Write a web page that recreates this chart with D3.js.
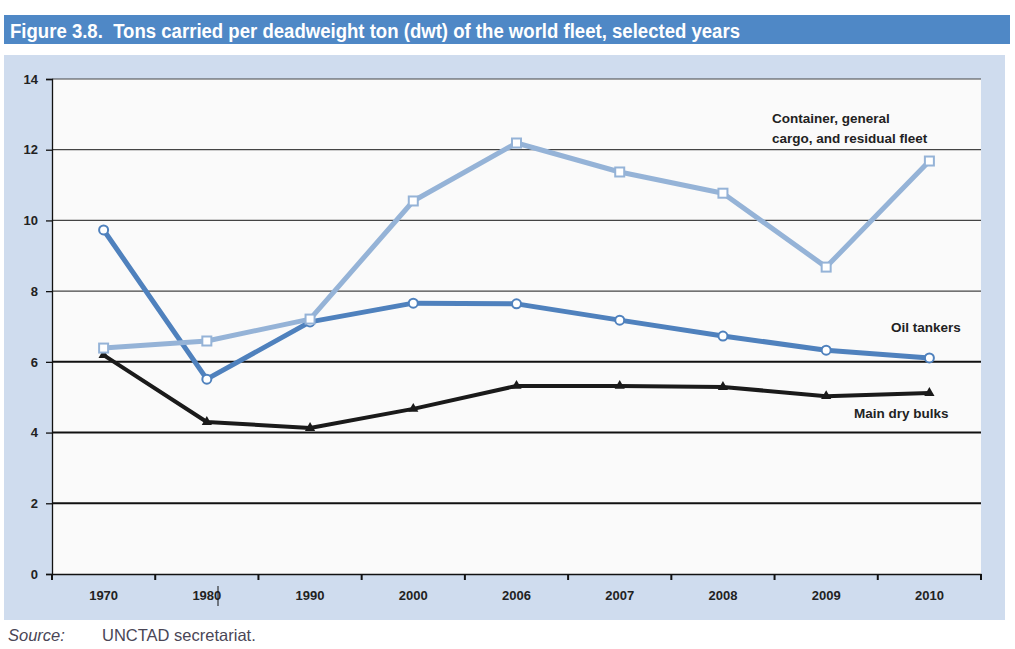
<!DOCTYPE html>
<html><head><meta charset="utf-8">
<script src="https://cdn.jsdelivr.net/npm/d3@7"></script>
<style>body{margin:0;background:#fff;}svg{display:block;}</style>
</head><body>
<script>
const years = ["1970","1980","1990","2000","2006","2007","2008","2009","2010"];
const oilTankers = [9.73,5.51,7.13,7.66,7.64,7.18,6.73,6.33,6.11];
const containerFleet = [6.39,6.59,7.21,10.55,12.19,11.37,10.77,8.68,11.68];
const dryBulks = [6.19,4.30,4.13,4.67,5.32,5.32,5.29,5.03,5.12];
const yTicks = [0,2,4,6,8,10,12,14];

const W=1015,H=649;
const svg=d3.select("body").append("svg").attr("width",W).attr("height",H);
const sans="'Liberation Sans',Arial,sans-serif";

// title bar
svg.append("rect").attr("x",4).attr("y",15).attr("width",1006).attr("height",29).attr("fill","#4f88c6");
svg.append("text").attr("x",10).attr("y",38).attr("fill","#fff").attr("font-family",sans)
  .attr("font-weight","bold").attr("font-size",20).attr("xml:space","preserve")
  .attr("textLength",730).attr("lengthAdjust","spacingAndGlyphs")
  .text("Figure 3.8.  Tons carried per deadweight ton (dwt) of the world fleet, selected years");

// panel
svg.append("rect").attr("x",4).attr("y",55).attr("width",1001).attr("height",565).attr("fill","#cfdcee");

const m={l:52,r:981,t:79,b:574};
svg.append("rect").attr("x",m.l).attr("y",m.t).attr("width",m.r-m.l).attr("height",m.b-m.t).attr("fill","#fafafa");

const x=d3.scaleBand().domain(years).range([m.l,m.r]);
const y=d3.scaleLinear().domain([0,14]).range([m.b,m.t]);

// gridlines
svg.append("g").selectAll("line").data(yTicks.filter(d=>d>0)).join("line")
  .attr("x1",m.l).attr("x2",m.r).attr("y1",d=>y(d)).attr("y2",d=>y(d))
  .attr("stroke",d=>d<=6?"#111":"#444").attr("stroke-width",d=>d<=6?2:1.2);

// y axis
const ya=svg.append("g").attr("transform",`translate(${m.l},0)`)
  .call(d3.axisLeft(y).tickValues(yTicks).tickSize(6).tickPadding(8));
ya.select(".domain").attr("stroke","#111").attr("stroke-width",1.3);
ya.selectAll(".tick line").attr("stroke","#111").attr("stroke-width",1.3);
ya.selectAll("text").attr("font-family",sans).attr("font-weight","bold").attr("font-size",13).attr("fill","#222");

// x axis
const xa=svg.append("g").attr("transform",`translate(0,${m.b})`)
  .call(d3.axisBottom(x).tickSize(0).tickPadding(17));
xa.select(".domain").attr("stroke","#111").attr("stroke-width",1.5);
xa.selectAll("text").attr("font-family",sans).attr("font-weight","bold").attr("font-size",13).attr("fill","#222");
const bounds=years.map(d=>x(d)).concat([m.r]);
xa.append("g").selectAll("line").data(bounds).join("line")
  .attr("x1",d=>d).attr("x2",d=>d).attr("y1",0).attr("y2",6).attr("stroke","#111").attr("stroke-width",2);
// cursor artifact after 1980
svg.append("line").attr("x1",218).attr("x2",218).attr("y1",586).attr("y2",606).attr("stroke","#111").attr("stroke-width",1);

const cx=d=>x(d)+x.bandwidth()/2;
const line=vals=>d3.line().x((v,i)=>cx(years[i])).y(v=>y(v))(vals);

// dry bulks
svg.append("path").attr("d",line(dryBulks)).attr("fill","none").attr("stroke","#1a1a1a").attr("stroke-width",4).attr("stroke-linejoin","round");
svg.append("g").selectAll("path").data(dryBulks).join("path")
  .attr("d",d3.symbol(d3.symbolTriangle,45)).attr("transform",(v,i)=>`translate(${cx(years[i])},${y(v)})`).attr("fill","#1a1a1a");

// oil tankers
svg.append("path").attr("d",line(oilTankers)).attr("fill","none").attr("stroke","#4f81bd").attr("stroke-width",5).attr("stroke-linejoin","round");
svg.append("g").selectAll("circle").data(oilTankers).join("circle")
  .attr("cx",(v,i)=>cx(years[i])).attr("cy",v=>y(v)).attr("r",4.5).attr("fill","#fff").attr("stroke","#4f81bd").attr("stroke-width",2);

// container
svg.append("path").attr("d",line(containerFleet)).attr("fill","none").attr("stroke","#95b3d7").attr("stroke-width",5).attr("stroke-linejoin","round");
svg.append("g").selectAll("rect").data(containerFleet).join("rect")
  .attr("x",(v,i)=>cx(years[i])-4.5).attr("y",v=>y(v)-4.5).attr("width",9).attr("height",9)
  .attr("fill","#fff").attr("stroke","#95b3d7").attr("stroke-width",2);

// series labels
const lab=(t,xx,yy)=>svg.append("text").attr("x",xx).attr("y",yy).attr("font-family",sans).attr("font-weight","bold")
  .attr("font-size",13.5).attr("fill","#222").text(t);
lab("Container, general",772,123);
lab("cargo, and residual fleet",772,143);
lab("Oil tankers",891,332);
lab("Main dry bulks",854,418);

// source
svg.append("text").attr("x",8).attr("y",641).attr("font-family",sans).attr("font-style","italic").attr("font-size",16.5).attr("fill","#4a4656").text("Source:");
svg.append("text").attr("x",102).attr("y",641).attr("font-family",sans).attr("font-size",16.5).attr("fill","#4a4656").text("UNCTAD secretariat.");
</script>
</body></html>
